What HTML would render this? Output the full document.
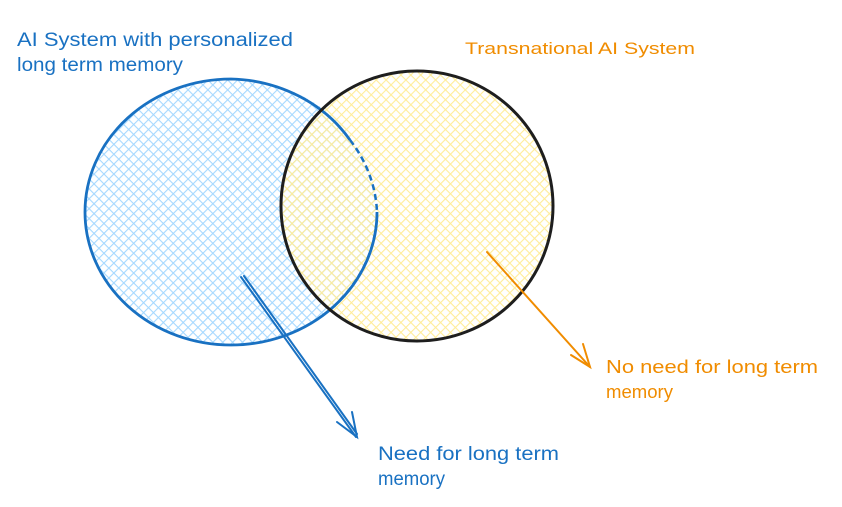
<!DOCTYPE html>
<html><head><meta charset="utf-8"><style>
html,body{margin:0;padding:0;background:#fff;}
svg{display:block;}
text{font-family:"Liberation Sans",sans-serif;}
</style></head><body>
<svg width="842" height="507" viewBox="0 0 842 507" xmlns="http://www.w3.org/2000/svg">
<defs>
<pattern id="hb" width="7" height="7" patternUnits="userSpaceOnUse" patternTransform="rotate(45)">
<rect width="7" height="7" fill="#fff"/>
<line x1="0" y1="0" x2="0" y2="7" stroke="#a5d8ff" stroke-width="2.2"/>
<line x1="0" y1="0" x2="7" y2="0" stroke="#a5d8ff" stroke-width="2.2"/>
</pattern>
<pattern id="hy" width="7" height="7" patternUnits="userSpaceOnUse" patternTransform="rotate(45)">
<line x1="0" y1="0" x2="0" y2="7" stroke="#ffec99" stroke-width="2.2"/>
<line x1="0" y1="0" x2="7" y2="0" stroke="#ffec99" stroke-width="2.2"/>
</pattern>
</defs>
<ellipse cx="231" cy="212" rx="146" ry="133" fill="url(#hb)"/>
<ellipse cx="417" cy="206" rx="136" ry="135" fill="url(#hy)"/>
<path d="M377 212 A146 133 0 0 1 231 345 A146 133 0 0 1 85 212 A146 133 0 0 1 231 79 A146 133 0 0 1 350 140" fill="none" stroke="#1971c2" stroke-width="2.8"/>
<path d="M350 140 A146 133 0 0 1 377 212 A146 133 0 0 1 340 300" fill="none" stroke="#1971c2" stroke-width="2.5" stroke-dasharray="6 4"/>
<ellipse cx="417" cy="206" rx="136" ry="135" fill="none" stroke="#1e1e1e" stroke-width="3"/>
<g stroke="#1971c2" stroke-width="2" fill="none" stroke-linecap="round">
<line x1="241" y1="277" x2="356" y2="437"/>
<line x1="244" y1="276" x2="357" y2="434"/>
<polyline points="337,422 357,437 352,412"/>
</g>
<g stroke="#f08c00" stroke-width="2" fill="none" stroke-linecap="round">
<line x1="487" y1="252" x2="590" y2="367"/>
<polyline points="571,355 590,367 583,344"/>
</g>
<g fill="#1971c2" font-size="19">
<text x="17" y="46" textLength="276" lengthAdjust="spacingAndGlyphs">AI System with personalized</text>
<text x="17" y="71" textLength="166" lengthAdjust="spacingAndGlyphs">long term memory</text>
<text x="378" y="460" textLength="181" lengthAdjust="spacingAndGlyphs">Need for long term</text>
<text x="378" y="485" textLength="67" lengthAdjust="spacingAndGlyphs">memory</text>
</g>
<g fill="#f08c00" font-size="18">
<text x="465" y="54" font-size="17" textLength="230" lengthAdjust="spacingAndGlyphs">Transnational AI System</text>
<text x="606" y="373" textLength="212" lengthAdjust="spacingAndGlyphs">No need for long term</text>
<text x="606" y="398" textLength="67" lengthAdjust="spacingAndGlyphs">memory</text>
</g>
</svg>
</body></html>
